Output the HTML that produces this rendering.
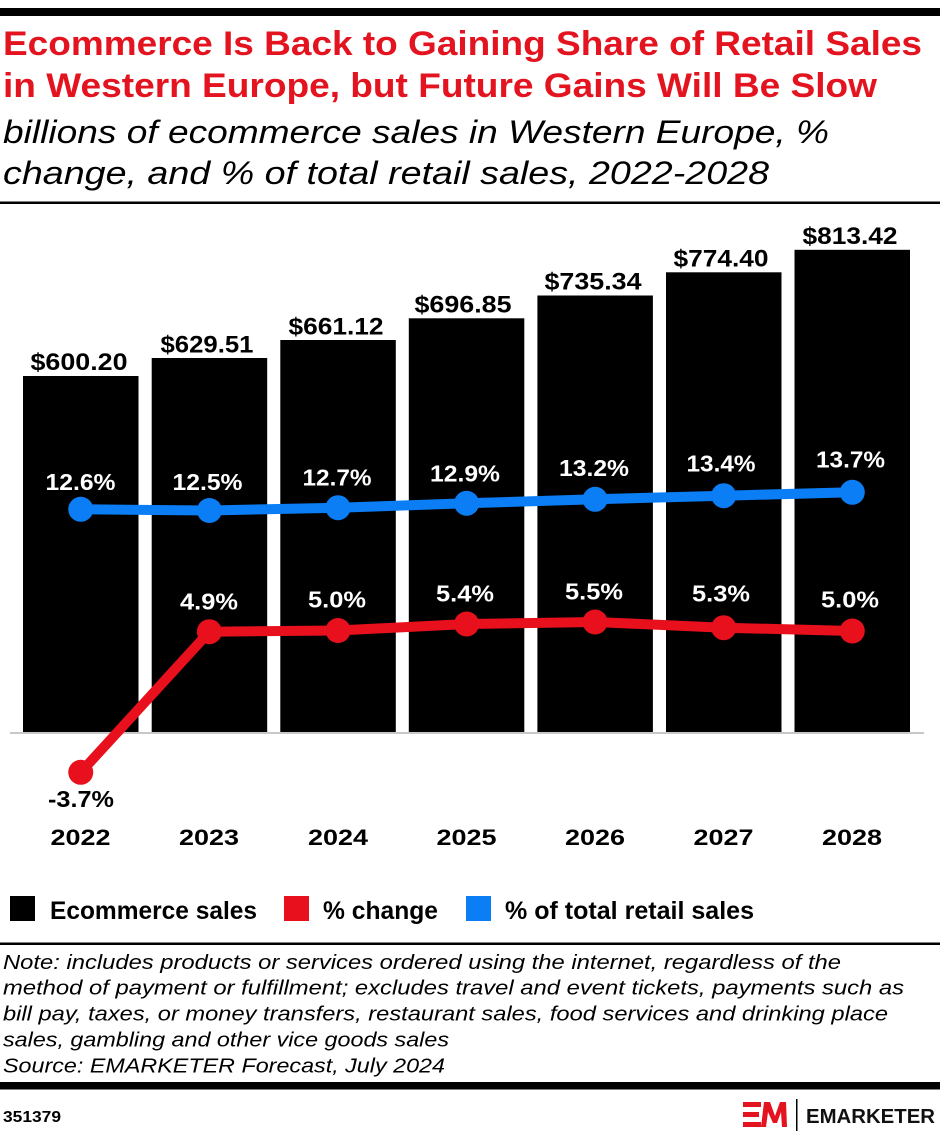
<!DOCTYPE html>
<html><head><meta charset="utf-8"><style>
html,body{margin:0;padding:0;background:#fff;}
svg{display:block;}
text{font-family:"Liberation Sans",Arial,sans-serif;}
</style></head><body>
<svg width="940" height="1136" viewBox="0 0 940 1136" xmlns="http://www.w3.org/2000/svg">
<rect width="940" height="1136" fill="#fff"/>
<rect x="0" y="8" width="940" height="8" fill="#000"/>
<text x="3" y="55" font-size="34" font-weight="700" fill="#e3141f" textLength="919" lengthAdjust="spacingAndGlyphs">Ecommerce Is Back to Gaining Share of Retail Sales</text>
<text x="3" y="97" font-size="34" font-weight="700" fill="#e3141f" textLength="874" lengthAdjust="spacingAndGlyphs">in Western Europe, but Future Gains Will Be Slow</text>
<text x="3" y="143" font-size="32" font-style="italic" fill="#000" textLength="826" lengthAdjust="spacingAndGlyphs">billions of ecommerce sales in Western Europe, %</text>
<text x="3" y="184" font-size="32" font-style="italic" fill="#000" textLength="766" lengthAdjust="spacingAndGlyphs">change, and % of total retail sales, 2022-2028</text>
<rect x="0" y="201.5" width="940" height="2.5" fill="#000"/>

<!-- bars -->
<g fill="#000">
<rect x="23" y="376" width="115.5" height="357"/>
<rect x="151.7" y="358" width="115.5" height="375"/>
<rect x="280.3" y="340" width="115.5" height="393"/>
<rect x="408.8" y="318.3" width="115.5" height="414.7"/>
<rect x="537.4" y="295.5" width="115.5" height="437.5"/>
<rect x="666" y="272.3" width="115.5" height="460.7"/>
<rect x="794.5" y="249.8" width="115.5" height="483.2"/>
</g>
<rect x="10" y="732" width="914" height="2" fill="#c8c8c8"/>

<!-- dollar labels -->
<g font-size="24" font-weight="700" fill="#000" text-anchor="middle">
<text x="79" y="370" textLength="97" lengthAdjust="spacingAndGlyphs">$600.20</text>
<text x="207" y="352.5" textLength="93" lengthAdjust="spacingAndGlyphs">$629.51</text>
<text x="336" y="334.5" textLength="95" lengthAdjust="spacingAndGlyphs">$661.12</text>
<text x="463" y="312.3" textLength="97" lengthAdjust="spacingAndGlyphs">$696.85</text>
<text x="593" y="289.5" textLength="97" lengthAdjust="spacingAndGlyphs">$735.34</text>
<text x="721" y="266.3" textLength="95" lengthAdjust="spacingAndGlyphs">$774.40</text>
<text x="850" y="243.8" textLength="95" lengthAdjust="spacingAndGlyphs">$813.42</text>
</g>

<!-- blue line -->
<polyline points="80.75,509.3 209.4,510.5 338,507.7 466.6,503.3 595.1,499.3 723.7,495.7 852.3,492.3" fill="none" stroke="#0b7ef5" stroke-width="10" stroke-linejoin="round"/>
<g fill="#0b7ef5">
<circle cx="80.75" cy="509.3" r="12.5"/>
<circle cx="209.4" cy="510.5" r="12.5"/>
<circle cx="338" cy="507.7" r="12.5"/>
<circle cx="466.6" cy="503.3" r="12.5"/>
<circle cx="595.1" cy="499.3" r="12.5"/>
<circle cx="723.7" cy="495.7" r="12.5"/>
<circle cx="852.3" cy="492.3" r="12.5"/>
</g>
<g font-size="23" font-weight="700" fill="#fff" text-anchor="middle">
<text x="80.5" y="490" textLength="70" lengthAdjust="spacingAndGlyphs">12.6%</text>
<text x="207.5" y="490" textLength="70" lengthAdjust="spacingAndGlyphs">12.5%</text>
<text x="337" y="485.7" textLength="69" lengthAdjust="spacingAndGlyphs">12.7%</text>
<text x="465" y="481.7" textLength="70" lengthAdjust="spacingAndGlyphs">12.9%</text>
<text x="594" y="476" textLength="70" lengthAdjust="spacingAndGlyphs">13.2%</text>
<text x="721" y="471.7" textLength="69" lengthAdjust="spacingAndGlyphs">13.4%</text>
<text x="850.5" y="467.7" textLength="69" lengthAdjust="spacingAndGlyphs">13.7%</text>
</g>

<!-- red line -->
<polyline points="80.75,772.3 209.4,631.7 338,630.5 466.6,624 595.1,622 723.7,627.7 852.3,631" fill="none" stroke="#e8101c" stroke-width="10" stroke-linejoin="round"/>
<g fill="#e8101c">
<circle cx="80.75" cy="772.3" r="12.5"/>
<circle cx="209.4" cy="631.7" r="12.5"/>
<circle cx="338" cy="630.5" r="12.5"/>
<circle cx="466.6" cy="624" r="12.5"/>
<circle cx="595.1" cy="622" r="12.5"/>
<circle cx="723.7" cy="627.7" r="12.5"/>
<circle cx="852.3" cy="631" r="12.5"/>
</g>
<g font-size="23" font-weight="700" text-anchor="middle">
<text x="81" y="807" fill="#000" textLength="66" lengthAdjust="spacingAndGlyphs">-3.7%</text>
<text x="209" y="609.3" fill="#fff" textLength="58" lengthAdjust="spacingAndGlyphs">4.9%</text>
<text x="337" y="607.7" fill="#fff" textLength="58" lengthAdjust="spacingAndGlyphs">5.0%</text>
<text x="465" y="601.7" fill="#fff" textLength="58" lengthAdjust="spacingAndGlyphs">5.4%</text>
<text x="594" y="599.3" fill="#fff" textLength="58" lengthAdjust="spacingAndGlyphs">5.5%</text>
<text x="721" y="601.7" fill="#fff" textLength="58" lengthAdjust="spacingAndGlyphs">5.3%</text>
<text x="850" y="607.3" fill="#fff" textLength="58" lengthAdjust="spacingAndGlyphs">5.0%</text>
</g>

<!-- years -->
<g font-size="22" font-weight="700" fill="#000" text-anchor="middle">
<text x="80.5" y="845" textLength="60" lengthAdjust="spacingAndGlyphs">2022</text>
<text x="209" y="845" textLength="60" lengthAdjust="spacingAndGlyphs">2023</text>
<text x="338" y="845" textLength="60" lengthAdjust="spacingAndGlyphs">2024</text>
<text x="466.5" y="845" textLength="60" lengthAdjust="spacingAndGlyphs">2025</text>
<text x="595" y="845" textLength="60" lengthAdjust="spacingAndGlyphs">2026</text>
<text x="723.5" y="845" textLength="60" lengthAdjust="spacingAndGlyphs">2027</text>
<text x="852" y="845" textLength="60" lengthAdjust="spacingAndGlyphs">2028</text>
</g>

<!-- legend -->
<rect x="10" y="896" width="25" height="25" fill="#000"/>
<text x="50" y="919" font-size="25" font-weight="700" fill="#000" textLength="207" lengthAdjust="spacingAndGlyphs">Ecommerce sales</text>
<rect x="284" y="896" width="25" height="25" fill="#e8101c"/>
<text x="323" y="919" font-size="25" font-weight="700" fill="#000" textLength="115" lengthAdjust="spacingAndGlyphs">% change</text>
<rect x="466" y="896" width="25" height="25" fill="#0b7ef5"/>
<text x="505" y="919" font-size="25" font-weight="700" fill="#000" textLength="249" lengthAdjust="spacingAndGlyphs">% of total retail sales</text>

<rect x="0" y="942.5" width="940" height="2.5" fill="#000"/>
<g font-size="20" font-style="italic" fill="#000">
<text x="3" y="969" textLength="838" lengthAdjust="spacingAndGlyphs">Note: includes products or services ordered using the internet, regardless of the</text>
<text x="3" y="994.5" textLength="901" lengthAdjust="spacingAndGlyphs">method of payment or fulfillment; excludes travel and event tickets, payments such as</text>
<text x="3" y="1020.5" textLength="885" lengthAdjust="spacingAndGlyphs">bill pay, taxes, or money transfers, restaurant sales, food services and drinking place</text>
<text x="3" y="1046.5" textLength="446" lengthAdjust="spacingAndGlyphs">sales, gambling and other vice goods sales</text>
<text x="3" y="1072.5" textLength="442" lengthAdjust="spacingAndGlyphs">Source: EMARKETER Forecast, July 2024</text>
</g>
<rect x="0" y="1082" width="940" height="7.5" fill="#000"/>

<text x="3" y="1122" font-size="16" font-weight="700" fill="#000" textLength="58" lengthAdjust="spacingAndGlyphs">351379</text>
<!-- logo -->
<g fill="#e3141f">
<rect x="743" y="1102" width="18" height="5"/>
<rect x="743" y="1112" width="16" height="5"/>
<rect x="743" y="1122" width="18" height="5"/>
<polygon points="761,1127 764,1102 770,1102 775,1116 780,1102 786,1102 787,1127 782,1127 781,1112 777,1123 773,1123 768,1112 766,1127"/>
</g>
<rect x="796" y="1099" width="1.5" height="32" fill="#000"/>
<text x="806" y="1123" font-size="20" font-weight="700" fill="#111" textLength="129" lengthAdjust="spacingAndGlyphs">EMARKETER</text>
</svg>
</body></html>
